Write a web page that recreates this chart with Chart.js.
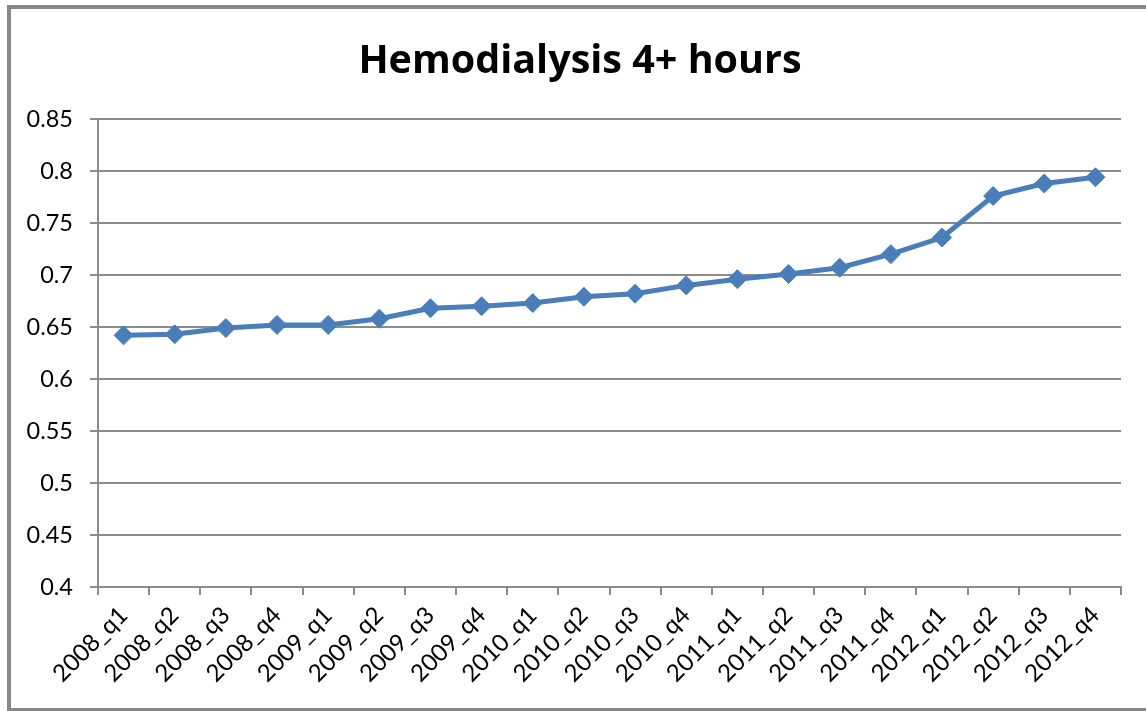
<!DOCTYPE html>
<html>
<head>
<meta charset="utf-8">
<script src="https://cdn.jsdelivr.net/npm/chart.js@4"></script>
<style>
  html, body { margin: 0; padding: 0; background: #fff; overflow: hidden; }
  #wrap { position: absolute; left: 0; top: 0; width: 1146px; height: 711px; }
  #frame { position: absolute; left: 7px; top: 5px; width: 1160px; height: 699px;
           border: 4px solid #878787; pointer-events: none; }
</style>
</head>
<body>
<div id="wrap">
  <canvas id="chart" width="1146" height="711"></canvas>
  <div id="frame"></div>
</div>
<script>
// quarters on the x axis
const quarters = [
  '2008_q1', '2008_q2', '2008_q3', '2008_q4',
  '2009_q1', '2009_q2', '2009_q3', '2009_q4',
  '2010_q1', '2010_q2', '2010_q3', '2010_q4',
  '2011_q1', '2011_q2', '2011_q3', '2011_q4',
  '2012_q1', '2012_q2', '2012_q3', '2012_q4'
]
// share of hemodialysis sessions lasting 4+ hours
const share = [
  0.642, 0.643, 0.649, 0.652,
  0.652, 0.658, 0.668, 0.670,
  0.673, 0.679, 0.682, 0.690,
  0.696, 0.701, 0.707, 0.720,
  0.736, 0.776, 0.788, 0.794
]
const yMin = 0.4
const yMax = 0.85
const yStep = 0.05

const FONT = 'Lato, "Open Sans", sans-serif'
const TITLE_FONT = '"Open Sans", Lato, sans-serif'
const GRID = '#8c8c8c'

// the original title sits a bit right of the plot's centre
const nudgeTitle = {
  id: 'nudgeTitle',
  afterLayout: function (chart) {
    if (chart.titleBlock) chart.titleBlock.right += 39
  }
}

var ctx = document.getElementById('chart')
var myChart = new Chart(ctx, {
  type: 'line',
  data: {
    labels: quarters,
    datasets: [{
      label: 'Hemodialysis 4+ hours',
      data: share,
      borderColor: '#4a7ebb',
      backgroundColor: '#4a7ebb',
      borderWidth: 5,
      pointStyle: 'rectRot',
      pointRadius: 9.5,
      pointBorderWidth: 1,
      pointBorderColor: '#4a7ebb',
      pointBackgroundColor: '#4a7ebb',
      tension: 0
    }]
  },
  plugins: [nudgeTitle],
  options: {
    responsive: false,
    animation: false,
    layout: {
      padding: { left: 0, right: 25, top: 0, bottom: 0 }
    },
    scales: {
      x: {
        offset: true,
        grid: {
          offset: true,
          drawOnChartArea: false,
          drawTicks: true,
          tickLength: 8,
          color: GRID,
          lineWidth: 2
        },
        border: { color: GRID, width: 2 },
        ticks: {
          color: '#000',
          minRotation: 45,
          maxRotation: 45,
          autoSkip: false,
          padding: 6,
          font: { family: FONT, size: 24 }
        },
        afterFit: function (scale) { scale.height = 124 }
      },
      y: {
        min: yMin,
        max: yMax,
        grid: {
          color: GRID,
          lineWidth: 2,
          tickLength: 8
        },
        border: { color: GRID, width: 2 },
        ticks: {
          stepSize: yStep,
          color: '#000',
          padding: 17,
          font: { family: FONT, size: 23.5 },
          callback: function (v) { return +v.toFixed(2) }
        },
        afterFit: function (scale) { scale.width = 98 }
      }
    },
    plugins: {
      legend: { display: false },
      tooltip: { enabled: false },
      title: {
        display: true,
        text: 'Hemodialysis 4+ hours',
        color: '#000',
        font: { family: TITLE_FONT, size: 39.5, weight: 'bold', lineHeight: 1.2 },
        padding: { top: 38, bottom: 33.6 }
      }
    }
  }
})
</script>
</body>
</html>
